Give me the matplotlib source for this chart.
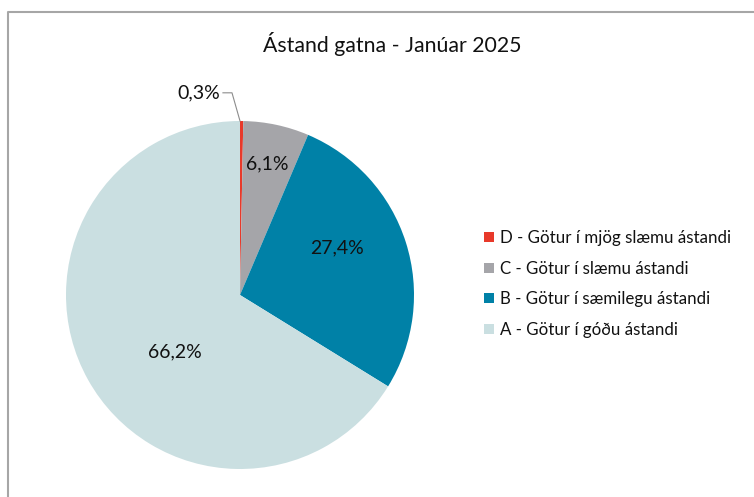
import matplotlib.pyplot as plt
from matplotlib.lines import Line2D

categories = [
    "D - Götur í mjög slæmu ástandi",
    "C - Götur í slæmu ástandi",
    "B - Götur í sæmilegu ástandi",
    "A - Götur í góðu ástandi",
]
shares = [0.3, 6.1, 27.4, 66.2]
colors = ["#E8392A", "#A5A5A9", "#0081A7", "#CADFE1"]
title = "Ástand gatna - Janúar 2025"

# label spots inside the unit circle (Excel "best fit" placement)
label_pos = [(-0.115, 1.162), (0.156, 0.751), (0.555, 0.272), (-0.376, -0.324)]

plt.rcParams["font.family"] = ["Lato", "DejaVu Sans"]

W, H = 754, 497
fig = plt.figure(figsize=(W / 100, H / 100), dpi=100)

# pie centre and radius in pixels
cx, cy, r = 240, 295, 174
ax = fig.add_axes([(cx - r) / W, (H - cy - r) / H, 2 * r / W, 2 * r / H])
wedges, _ = ax.pie(shares, colors=colors, startangle=90, counterclock=False,
                   radius=1, wedgeprops=dict(linewidth=0))
ax.set_xlim(-1, 1)
ax.set_ylim(-1, 1)
ax.set_aspect("equal")
ax.axis("off")

for i, (val, (x, y)) in enumerate(zip(shares, label_pos)):
    txt = f"{val:.1f}%".replace(".", ",")
    ha = "right" if i == 0 else "center"
    ax.text(x, y, txt, ha=ha, va="center", fontsize=14, color="#111111",
            clip_on=False)

# leader line for the tiny slice
ax.plot([0.0, -0.046, -0.098], [1.0, 1.162, 1.162], color="#8c8c8c",
        linewidth=0.8, clip_on=False)

fig.text(392 / W, 1 - 44 / H, title, ha="center", va="center", fontsize=15.3,
         color="#111111")

handles = [Line2D([], [], marker="s", linestyle="none", markersize=7.5,
                  markerfacecolor=c, markeredgewidth=0) for c in colors]
fig.legend(handles, categories, loc="center left",
           bbox_to_anchor=(470 / W, 1 - 284 / H), frameon=False,
           fontsize=12.2, handlelength=0.5, handletextpad=0.4,
           labelspacing=0.85, labelcolor="#111111")

# chart frame (only left and top edges visible)
fig.add_artist(Line2D([7.5 / W, 7.5 / W, 1], [0, 1 - 11.5 / H, 1 - 11.5 / H],
                      transform=fig.transFigure, color="#a6a6a6", linewidth=1.5))

fig.savefig("out.png", dpi=100)
